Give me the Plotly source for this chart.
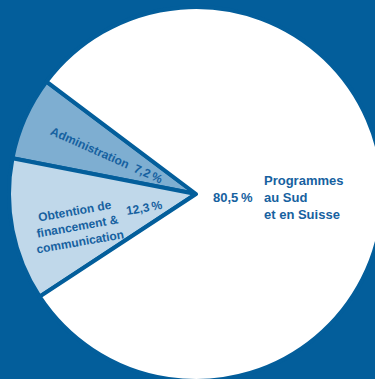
import plotly.graph_objects as go

# slice data
labels = ["Administration", "Obtention de financement & communication", "Programmes au Sud et en Suisse"]
values = [7.2, 12.3, 80.5]
colors = ["#7eaed1", "#c0d8ea", "#ffffff"]

BG = "#035e9b"
TXT = "#1661a0"
FONT = "Liberation Sans"

W, H = 392, 388
CX, CY, R = 196, 194, 187


def pct(v):
    return f"{v:.1f}".replace(".", ",") + "\u2009%"


def px(x, y):
    # pixel position -> paper coords
    return x / W, 1 - y / H


fig = go.Figure(go.Pie(
    labels=labels, values=values, sort=False,
    direction="counterclockwise", rotation=-79,
    marker=dict(colors=colors, line=dict(color=BG, width=4)),
    textinfo="none", hoverinfo="label+percent",
    domain=dict(x=[(CX - R) / W, (CX + R) / W], y=[1 - (CY + R) / H, 1 - (CY - R) / H]),
    showlegend=False,
))

notes = [
    # text, x, y, angle, xanchor, size
    (f"Administration  {pct(values[0])}", 106, 155, 24, "center", 12),
    ("Obtention de<br>financement &<br>communication", 77, 226, -10, "center", 12),
    (pct(values[1]), 144, 208, -10, "center", 12),
    (pct(values[2]), 255, 197, 0, "right", 13),
    ("Programmes<br>au Sud<br>et en Suisse", 262, 197, 0, "left", 13),
]
for text, x, y, ang, xa, size in notes:
    ax, ay = px(x, y)
    fig.add_annotation(text=text, x=ax, y=ay, xref="paper", yref="paper",
                       xanchor=xa, yanchor="middle",
                       showarrow=False, textangle=ang, align="center" if xa == "center" else "left",
                       font=dict(family=FONT, size=size, color=TXT, weight="bold"))

fig.update_layout(
    width=W, height=H,
    margin=dict(l=0, r=0, t=0, b=0),
    paper_bgcolor=BG, plot_bgcolor=BG,
)

# page has a default body margin, drop it so the figure sits at the corner
fig.write_html("out.html", config={"displayModeBar": False},
               post_script="document.body.style.margin='0';document.body.style.overflow='hidden';")
